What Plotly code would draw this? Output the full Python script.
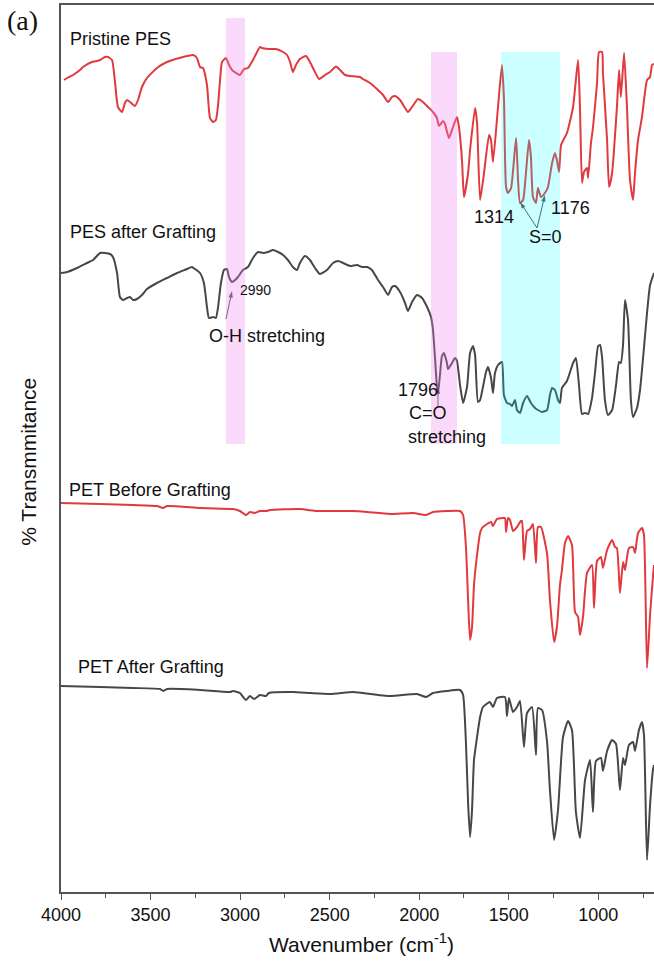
import plotly.graph_objects as go

# ---------------- data (wavenumber in cm-1, transmittance in arbitrary stacked units) ----------------
pes_wn = [3983, 3966, 3933, 3894, 3877, 3827, 3799, 3782, 3754, 3738, 3715, 3698, 3682, 3659, 3643, 3631,
          3615, 3587, 3570, 3548, 3520, 3464, 3408, 3263, 3241, 3224, 3207, 3185, 3168, 3151, 3135, 3123,
          3112, 3101, 3079, 3062, 3045, 3001, 2978, 2956, 2928, 2889, 2878, 2844, 2800, 2760, 2738, 2721,
          2705, 2688, 2666, 2632, 2610, 2582, 2559, 2526, 2498, 2470, 2459, 2442, 2414, 2386, 2331, 2314,
          2275, 2230, 2202, 2174, 2152, 2135, 2107, 2079, 2063, 2040, 2007, 1979, 1951, 1923, 1901, 1889,
          1867, 1856, 1834, 1811, 1789, 1778, 1761, 1750, 1727, 1716, 1688, 1677, 1660, 1638, 1610, 1599,
          1588, 1560, 1538, 1527, 1515, 1504, 1487, 1459, 1448, 1437, 1420, 1404, 1387, 1376, 1365, 1348,
          1337, 1320, 1298, 1281, 1258, 1242, 1231, 1219, 1208, 1175, 1141, 1113, 1102, 1091, 1080, 1063,
          1057, 1041, 1030, 1007, 996, 979, 974, 951, 940, 923, 896, 884, 874, 856, 840, 823, 806, 795,
          778, 756, 728, 711, 700, 689]
pes_t = [812, 814, 817, 822, 825, 830, 831, 832, 835, 835, 832, 809, 785, 780, 789, 792,
         790, 786, 792, 805, 814, 824, 830, 837, 834, 825, 824, 807, 774, 770, 772, 787,
         812, 830, 834, 827, 822, 817, 823, 824, 832, 845, 844, 843, 843, 840, 837, 830,
         820, 827, 833, 836, 830, 820, 813, 817, 820, 825, 825, 822, 817, 816, 815, 813,
         809, 802, 797, 790, 795, 796, 792, 784, 780, 785, 793, 790, 785, 780, 774, 766,
         771, 768, 754, 765, 775, 765, 732, 695, 719, 742, 784, 769, 692, 719, 757, 752,
         730, 785, 827, 795, 705, 699, 704, 754, 712, 689, 692, 719, 752, 735, 695, 689,
         704, 695, 699, 705, 729, 739, 732, 720, 747, 759, 785, 832, 782, 709, 720, 724,
         714, 749, 764, 809, 840, 840, 819, 752, 705, 719, 785, 822, 795, 839, 785, 712, 692, 719,
         752, 775, 812, 815, 827, 828]

gpes_wn = [4000, 3966, 3911, 3855, 3821, 3782, 3754, 3726, 3710, 3687, 3671, 3654, 3631, 3615, 3598, 3576,
           3548, 3520, 3464, 3408, 3352, 3296, 3269, 3252, 3224, 3202, 3185, 3174, 3151, 3135, 3123, 3107,
           3090, 3073, 3062, 3045, 3028, 3012, 2984, 2956, 2928, 2900, 2872, 2844, 2816, 2788, 2760, 2733,
           2705, 2682, 2666, 2638, 2610, 2582, 2554, 2515, 2481, 2453, 2425, 2386, 2347, 2319, 2291, 2264,
           2230, 2202, 2174, 2152, 2135, 2107, 2079, 2063, 2040, 2012, 1984, 1956, 1934, 1923, 1912, 1901,
           1895, 1884, 1873, 1862, 1845, 1839, 1817, 1800, 1789, 1772, 1755, 1733, 1716, 1700, 1688, 1672,
           1660, 1644, 1627, 1616, 1599, 1588, 1577, 1560, 1538, 1527, 1510, 1493, 1482, 1465, 1454, 1437,
           1420, 1398, 1376, 1353, 1337, 1314, 1286, 1270, 1258, 1242, 1225, 1214, 1203, 1175, 1141, 1125,
           1108, 1091, 1074, 1057, 1035, 1018, 1001, 990, 979, 963, 946, 923, 901, 884, 874, 862, 851, 834,
           818, 806, 784, 767, 750, 728, 711, 689]
gpes_t = [619, 620, 624, 629, 632, 639, 639, 638, 635, 619, 595, 592, 594, 595, 592, 593,
          597, 603, 609, 614, 619, 623, 625, 623, 619, 609, 585, 574, 575, 574, 585, 609,
          622, 623, 615, 610, 612, 615, 622, 625, 634, 640, 639, 640, 642, 640, 637, 632,
          625, 622, 629, 636, 632, 624, 618, 622, 629, 631, 629, 626, 627, 625, 625, 622,
          612, 605, 597, 605, 606, 600, 589, 581, 590, 597, 594, 585, 575, 562, 535, 505,
          499, 517, 536, 539, 529, 523, 529, 534, 531, 507, 489, 505, 539, 546, 537, 490,
          492, 505, 520, 525, 514, 499, 519, 527, 530, 497, 489, 488, 486, 492, 482, 479,
          489, 496, 489, 484, 482, 480, 482, 497, 504, 502, 492, 489, 504, 511, 529, 534,
          507, 478, 479, 478, 494, 520, 546, 547, 535, 492, 477, 482, 507, 530, 529, 547, 592, 572,
          492, 475, 484, 502, 534, 579, 607, 619]

pet_wn = [4000, 3782, 3598, 3464, 3430, 3408, 3224, 3056, 3040, 3001, 2967, 2945, 2917, 2889, 2850, 2833,
          2666, 2571, 2498, 2370, 2291, 2163, 2034, 1962, 1923, 1845, 1772, 1755, 1739, 1727, 1716, 1705,
          1694, 1677, 1660, 1649, 1621, 1599, 1588, 1566, 1532, 1521, 1515, 1504, 1493, 1476, 1454, 1432,
          1426, 1415, 1398, 1381, 1365, 1348, 1337, 1320, 1286, 1270, 1247, 1231, 1214, 1203, 1186, 1169,
          1147, 1130, 1113, 1102, 1085, 1063, 1035, 1024, 1007, 985, 974, 951, 923, 907, 896, 879, 862,
          851, 829, 806, 795, 778, 756, 745, 728, 711, 695, 689]
pet_t = [389, 388, 387, 386, 384, 386, 384, 383, 383, 381, 377, 380, 379, 381, 381, 382,
         383, 381, 381, 381, 380, 378, 379, 377, 380, 381, 381, 377, 345, 292, 252, 265,
         307, 337, 359, 364, 368, 370, 366, 373, 374, 374, 360, 374, 372, 361, 365, 371,
         371, 332, 361, 363, 368, 329, 365, 365, 338, 292, 250, 265, 307, 322, 349, 356,
         347, 280, 275, 257, 276, 319, 327, 284, 331, 335, 324, 342, 352, 345, 344, 299, 330,
         322, 344, 345, 339, 359, 364, 357, 224, 277, 315, 327]

gpet_wn = [4000, 3782, 3598, 3447, 3430, 3408, 3224, 3056, 3040, 3001, 2967, 2945, 2922, 2889, 2856, 2839,
           2705, 2610, 2498, 2370, 2314, 2163, 2012, 1962, 1923, 1845, 1772, 1755, 1739, 1727, 1716, 1705,
           1694, 1677, 1660, 1644, 1605, 1588, 1566, 1521, 1510, 1499, 1476, 1454, 1437, 1415, 1398, 1370,
           1348, 1337, 1314, 1286, 1270, 1247, 1225, 1197, 1169, 1147, 1125, 1102, 1074, 1046, 1030, 1013,
           985, 974, 951, 923, 901, 879, 862, 851, 829, 806, 795, 773, 756, 745, 728, 711, 695, 689]
gpet_t = [206, 205, 204, 203, 201, 203, 202, 200, 201, 199, 192, 196, 193, 197, 196, 199,
          200, 199, 198, 200, 199, 196, 198, 195, 199, 201, 202, 197, 149, 89, 55, 82,
          132, 155, 175, 185, 190, 185, 194, 195, 176, 194, 180, 185, 191, 145, 179, 185,
          137, 184, 182, 150, 102, 52, 82, 155, 171, 162, 80, 54, 112, 132, 80, 131,
          134, 121, 141, 152, 148, 102, 134, 127, 147, 150, 141, 162, 170, 157, 32, 87, 122, 127]

x_ticks = [4000, 3500, 3000, 2500, 2000, 1500, 1000]

# highlighted bands (wavenumber limits, transmittance limits)
band_oh = (3079, 2973, 448, 874)
band_co = (1934, 1789, 448, 840)
band_so = (1543, 1214, 448, 840)

# annotation arrows: (tail wn, tail T, head wn, head T)
arrow_segments = [
    (1342, 664, 1437, 690),
    (1342, 664, 1298, 697),
    (1895, 485, 1895, 505),
    (3079, 573, 3045, 601),
]

RED = "#E03A3E"
GRAY = "#474747"
FONT = "Liberation Sans, Arial, sans-serif"

fig = go.Figure()
for wn, t, col in [(pes_wn, pes_t, RED), (gpes_wn, gpes_t, GRAY),
                   (pet_wn, pet_t, RED), (gpet_wn, gpet_t, GRAY)]:
    fig.add_trace(go.Scatter(x=wn, y=t, mode="lines",
                             line=dict(color=col, width=2, shape="spline", smoothing=0.5),
                             showlegend=False, hoverinfo="skip"))

for tx, ty, hx, hy in arrow_segments:
    fig.add_trace(go.Scatter(x=[tx, hx], y=[ty, hy], mode="lines+markers",
                             line=dict(color="#222", width=0.8),
                             marker=dict(symbol="arrow", size=[0, 7], angleref="previous",
                                         color="#111", line=dict(width=0)),
                             showlegend=False, hoverinfo="skip"))

for (x0, x1, y0, y1), col, op in [(band_oh, "violet", 0.3), (band_co, "violet", 0.3),
                                  (band_so, "#00FFFF", 0.2)]:
    fig.add_shape(type="rect", xref="x", yref="y", x0=x0, x1=x1, y0=y0, y1=y1,
                  fillcolor=col, opacity=op, line=dict(width=0), layer="above")

labels = [
    ("Pristine PES", 3955, 853, 18),
    ("PES after Grafting", 3955, 660, 18),
    ("O-H stretching", 3179, 556, 18),
    ("2990", 3006, 602, 14),
    ("1314", 1700, 675, 18),
    ("1176", 1270, 684, 18),
    ("S=0", 1393, 655, 18),
    ("1796", 2124, 502, 18),
    ("C=O", 2063, 479, 18),
    ("stretching", 2068, 455, 18),
    ("PET Before Grafting", 3961, 402, 18),
    ("PET After Grafting", 3911, 225, 18),
]
for txt, x, y, fs in labels:
    fig.add_annotation(x=x, y=y, xref="x", yref="y", text=txt, showarrow=False,
                       xanchor="left", yanchor="middle", borderpad=0,
                       font=dict(family=FONT, size=fs, color="#111"))

fig.add_annotation(x=-0.094, y=0.983, xref="paper", yref="paper", text="(a)", showarrow=False,
                   xanchor="left", yanchor="middle",
                   font=dict(family="Liberation Serif, Times New Roman, serif", size=28, color="#111"))
fig.add_annotation(x=-0.054, y=0.485, xref="paper", yref="paper", text="% Transmmitance",
                   showarrow=False, textangle=-90, xanchor="center", yanchor="middle",
                   font=dict(family=FONT, size=21, color="#111"))
fig.add_annotation(x=0.506, y=-0.0575, xref="paper", yref="paper",
                   text="Wavenumber (cm<sup>-1</sup>)", showarrow=False,
                   xanchor="center", yanchor="middle",
                   font=dict(family=FONT, size=21, color="#111"))

fig.update_layout(
    width=654, height=961,
    margin=dict(l=61, r=0, t=5, b=69),
    paper_bgcolor="white", plot_bgcolor="white",
    xaxis=dict(range=[4000, 689], tickvals=x_ticks, ticks="outside", ticklen=6, tickwidth=1.3,
               tickcolor="#555", showline=True, linecolor="#555", linewidth=1.5, mirror=True,
               showgrid=False, zeroline=False,
               tickfont=dict(family=FONT, size=18, color="#111"),
               minor=dict(dtick=250, tick0=0, ticks="outside", ticklen=4, tickcolor="#555",
                          tickwidth=1.3, showgrid=False)),
    yaxis=dict(range=[0, 887], showticklabels=False, ticks="", showline=True, linecolor="#555",
               linewidth=1.5, showgrid=False, zeroline=False),
)

fig.write_html("out.html", config={"displayModeBar": False},
               post_script="document.body.style.margin='0';document.body.style.overflow='hidden';")
